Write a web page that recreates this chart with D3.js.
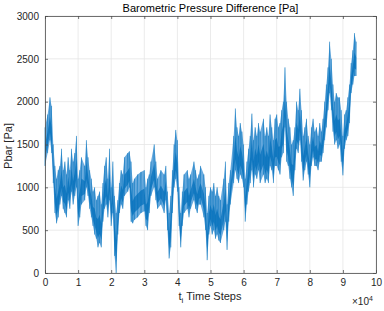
<!DOCTYPE html>
<html>
<head>
<meta charset="utf-8">
<title></title>
<style>
  body { margin: 0; background: #fff; }
  text { font-family: "Liberation Sans", Arial, sans-serif; }
</style>
</head>
<body>
<svg id="chart" width="384" height="311"></svg>
<script src="https://cdn.jsdelivr.net/npm/d3@7"></script>
<script>
// time step positions, in thousands of steps
const steps = [0,0.8,1.5,2,2.5,3,3.5,4,4.5,5,5.5,6,6.5,7,7.5,8,8.5,9,9.5,10,10.5,11,12,12.5,13,13.5,14,14.5,15,15.5,16,16.5,17,17.5,18,18.5,19,19.5,20,20.5,21,21.5,22,22.5,23,23.5,24,25,25.5,26,26.5,27,28,29,30,30.5,31,31.5,32,33,33.5,34,35,36,36.5,37,37.5,38,38.5,39,39.5,40,40.5,41,41.5,42,43,43.5,44,45,45.5,46,46.5,47,48,48.5,49,49.5,50,50.5,51,51.5,52,52.5,53,54,54.5,55,55.5,56,57,57.5,58,58.5,59,59.5,60,60.5,61,61.5,62,62.5,63,63.5,64,64.5,65,66,66.5,67,67.5,68,68.5,69,69.5,70,70.5,71,71.5,72,72.5,73,73.5,74,74.5,75,75.5,76,76.5,77,77.5,78,78.5,79,79.5,80,80.5,81,81.5,82,82.5,83,83.5,84,84.5,85,85.5,86,86.5,87,87.5,88,88.5,89,89.5,90,90.5,91,91.5,92,92.5,93,93.5,94];
// upper envelope of Pbar [Pa]
const pbarHigh = [1700,1850,2050,1950,1500,1250,1100,1200,1250,1450,1200,1300,1150,1350,1200,1450,1300,1400,1600,1100,1200,1350,1250,1550,1350,1200,1100,950,1000,850,900,950,800,1050,1250,1350,1100,1450,1000,1300,900,700,850,1050,1200,1150,1350,1400,1420,1300,1050,1100,1150,1180,1200,1000,1100,1150,1300,1500,1300,1100,1200,1150,1250,950,700,900,1200,1500,1670,1550,1000,700,950,1150,1200,1100,1150,1300,1200,1100,1150,1250,1150,1000,700,900,1000,950,1050,900,1000,900,850,1100,1300,800,1050,1200,1600,1920,1700,1600,1750,1650,1500,1100,1300,1450,1600,1860,1550,1700,1600,1750,1650,1800,1600,1700,1600,1850,1700,1550,1800,1850,1700,1750,1900,2000,2400,2000,1800,1700,1500,1550,1700,2000,1900,2150,1900,1600,1700,1800,1600,1500,1700,1800,1650,1700,1600,1750,1650,1800,2000,2200,2400,2700,2500,2200,2000,2100,2050,2050,1900,1600,1850,1900,2050,2200,2450,2600,2800,2700];
// lower envelope of Pbar [Pa]
const pbarLow = [1250,1400,1550,1400,1050,700,580,650,800,900,750,700,650,850,750,950,800,900,1000,550,650,800,850,1000,900,750,650,550,450,400,300,350,300,600,750,800,650,850,550,700,200,0,450,700,800,750,900,950,1000,600,580,620,650,700,720,550,500,700,900,1000,850,750,800,700,850,500,170,300,700,1000,1100,950,550,300,550,700,750,650,750,850,750,700,800,800,650,500,150,450,550,450,500,400,450,380,350,500,600,270,600,800,1050,1200,1100,1050,1150,1100,1000,600,800,950,1050,1200,1000,1150,1100,1200,1050,1150,1050,1100,1050,1250,1200,1050,1250,1250,1200,1150,1350,1400,1700,1300,1250,1100,1000,900,1200,1450,1400,1550,1300,1080,1200,1300,1150,1000,1250,1350,1250,1250,1200,1300,1300,1400,1550,1700,1900,2100,1900,1650,1500,1550,1450,1500,1300,1140,1450,1550,1600,1750,2100,2200,2300,2300];
const xTicks = [0,1,2,3,4,5,6,7,8,9,10];
const yTicks = [0,500,1000,1500,2000,2500,3000];

const data = steps.map((s, i) => ({t: s * 1000, hi: pbarHigh[i], lo: pbarLow[i]}));

const svg = d3.select("#chart");
const mLeft = 45, mRight = 376, mTop = 16, mBottom = 273;

const x = d3.scaleLinear().domain([0, 100000]).range([mLeft, mRight]);
const y = d3.scaleLinear().domain([0, 3000]).range([mBottom, mTop]);

// grid
svg.append("g")
  .selectAll("line").data(xTicks).join("line")
  .attr("x1", d => x(d * 10000)).attr("x2", d => x(d * 10000))
  .attr("y1", mTop).attr("y2", mBottom)
  .attr("stroke", "#e6e6e6").attr("stroke-width", 0.8);
svg.append("g")
  .selectAll("line").data(yTicks).join("line")
  .attr("y1", d => y(d)).attr("y2", d => y(d))
  .attr("x1", mLeft).attr("x2", mRight)
  .attr("stroke", "#e6e6e6").attr("stroke-width", 0.8);

// outer band
svg.append("path").datum(data)
  .attr("fill", "#6aabde")
  .attr("d", d3.area().x(d => x(d.t)).y0(d => y(d.lo)).y1(d => y(d.hi)));

// darker core
svg.append("path").datum(data)
  .attr("fill", "#1f7fc5")
  .attr("d", d3.area().x(d => x(d.t))
    .y0(d => y(d.lo + (d.hi - d.lo) * 0.18))
    .y1(d => y(d.hi - (d.hi - d.lo) * 0.45)));

// spiky streaks
svg.append("g").selectAll("line").data(data).join("line")
  .attr("x1", d => x(d.t)).attr("x2", d => x(d.t))
  .attr("y1", d => y(d.lo)).attr("y2", d => y(d.hi))
  .attr("stroke", "#0072BD").attr("stroke-width", 0.6).attr("opacity", 0.7);

svg.append("path").datum(data.flatMap(d => [[d.t, d.hi], [d.t, d.lo]]))
  .attr("fill", "none").attr("stroke", "#0072BD").attr("stroke-width", 0.4).attr("opacity", 0.45)
  .attr("d", d3.line().x(d => x(d[0])).y(d => y(d[1])));

// axes
const xAxis = d3.axisBottom(x).tickValues(xTicks.map(d => d * 10000))
  .tickFormat(d => d / 10000).tickSizeInner(-3).tickSizeOuter(0).tickPadding(6);
const yAxis = d3.axisLeft(y).tickValues(yTicks).tickFormat(d3.format("d"))
  .tickSizeInner(-3).tickSizeOuter(0).tickPadding(6);

svg.append("g").attr("transform", `translate(0,${mBottom})`).call(xAxis);
svg.append("g").attr("transform", `translate(${mLeft},0)`).call(yAxis);
svg.append("g").attr("transform", `translate(0,${mTop})`)
  .call(d3.axisTop(x).tickValues(xTicks.map(d => d * 10000)).tickFormat("").tickSizeInner(-3).tickSizeOuter(0));
svg.append("g").attr("transform", `translate(${mRight},0)`)
  .call(d3.axisRight(y).tickValues(yTicks).tickFormat("").tickSizeInner(-3).tickSizeOuter(0));

svg.selectAll(".domain").attr("stroke", "#4d4d4d").attr("stroke-width", 0.8);
svg.selectAll(".tick line").attr("stroke", "#4d4d4d").attr("stroke-width", 0.8);
svg.selectAll(".tick text").attr("fill", "#262626").style("font-size", "10px")
  .style("font-family", "'Liberation Sans', Arial, sans-serif");

// title and labels
svg.append("text").attr("x", (mLeft + mRight) / 2).attr("y", 12)
  .attr("text-anchor", "middle").attr("fill", "#000").style("font-size", "11px")
  .text("Barometric Pressure Difference [Pa]");

svg.append("text")
  .attr("transform", `translate(12,146) rotate(-90)`)
  .attr("text-anchor", "middle").attr("fill", "#262626").style("font-size", "11px")
  .text("Pbar [Pa]");

const xl = svg.append("text").attr("x", 210).attr("y", 300)
  .attr("text-anchor", "middle").attr("fill", "#262626").style("font-size", "11px");
xl.append("tspan").text("t");
xl.append("tspan").attr("dy", 3).style("font-size", "8px").text("i");
xl.append("tspan").attr("dy", -3).text(" Time Steps");

const ex = svg.append("text").attr("x", 352).attr("y", 305)
  .attr("fill", "#262626").style("font-size", "10px");
ex.append("tspan").text("\u00d710");
ex.append("tspan").attr("dy", -4).style("font-size", "7px").text("4");
</script>
</body>
</html>
